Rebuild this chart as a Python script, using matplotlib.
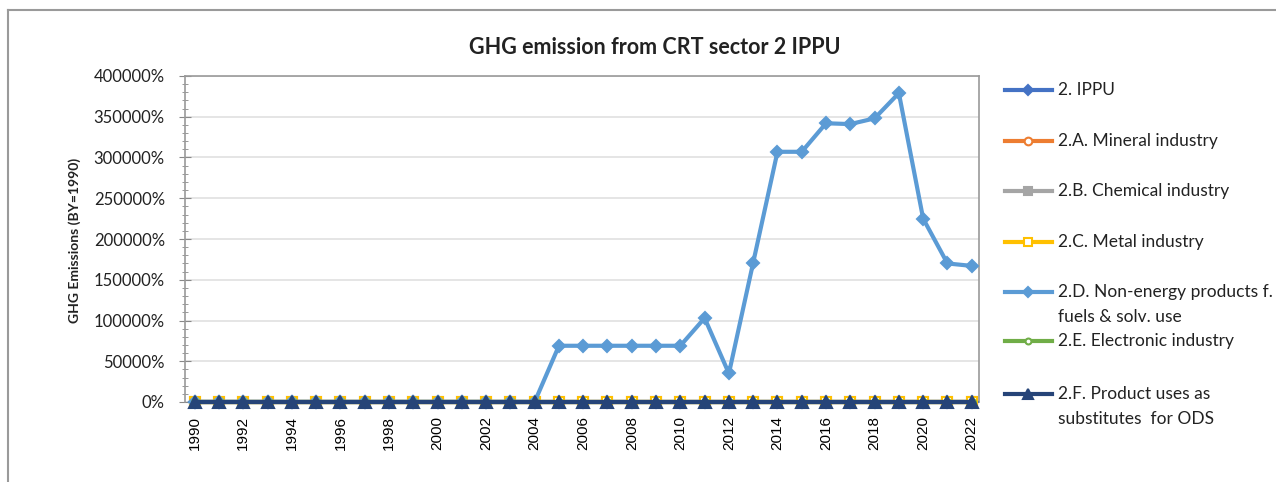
import matplotlib
matplotlib.use("Agg")
import matplotlib.pyplot as plt
from matplotlib.lines import Line2D
from matplotlib.ticker import MultipleLocator, FuncFormatter

plt.rcParams['font.family'] = ['Lato', 'DejaVu Sans']

years = list(range(1990, 2023))
ippu = [100] * 33
mineral = [100] * 33
chemical = [100] * 33
metal = [100] * 33
non_energy = [100] * 15 + [69000, 69000, 69000, 69000, 69000, 69000, 103000, 35000,
                           171000, 307000, 307000, 342000, 341000, 348000, 379000,
                           225000, 170000, 167000]
electronic = [100] * 33
ods = [100] * 33

labels = ["2. IPPU", "2.A. Mineral industry", "2.B. Chemical industry", "2.C. Metal industry",
          "2.D. Non-energy products f.\nfuels & solv. use", "2.E. Electronic industry",
          "2.F. Product uses as\nsubstitutes  for ODS"]
series = [ippu, mineral, chemical, metal, non_energy, electronic, ods]
colors = ["#4472C4", "#ED7D31", "#A5A5A5", "#FFC000", "#5B9BD5", "#70AD47", "#264478"]
markers = ["D", "o", "s", "s", "D", "o", "^"]
mfaces = ["#4472C4", "white", "#A5A5A5", "white", "#5B9BD5", "white", "#264478"]
msizes = [6, 6.5, 6.5, 6.5, 6.5, 5, 8]

W, H = 1276, 482
fig = plt.figure(figsize=(W / 100, H / 100), dpi=100)

def fx(px):
    return px / W

def fy(py):
    return 1 - py / H

ax = fig.add_axes([fx(185), fy(402), fx(979) - fx(185), fy(76) - fy(402)])

for s, c, m, mf, ms in zip(series, colors, markers, mfaces, msizes):
    ax.plot(years, s, color=c, lw=3.0, marker=m, markerfacecolor=mf,
            markeredgecolor=c, markeredgewidth=1.5, markersize=ms, clip_on=False, zorder=3)

ax.set_xlim(1989.6, 2022.3)
ax.set_ylim(0, 400000)
ax.set_xticks(years[::2])
ax.set_xticklabels([str(y) for y in years[::2]], rotation=90, fontsize=11,
                   family=['Liberation Sans', 'DejaVu Sans'])
ax.tick_params(axis='x', length=0, pad=10)
ax.yaxis.set_major_locator(MultipleLocator(50000))
ax.yaxis.set_minor_locator(MultipleLocator(10000))
ax.yaxis.set_major_formatter(FuncFormatter(lambda v, p: f"{v:.0f}%"))
ax.tick_params(axis='y', which='major', direction='inout', length=9, color='#888888',
               labelsize=12, pad=10)
ax.tick_params(axis='y', which='minor', direction='inout', length=5, color='#888888')
ax.grid(axis='y', color='#e0e0e0', lw=1.2)
ax.set_axisbelow(True)
for sp in ax.spines.values():
    sp.set_color('#9a9a9a')
    sp.set_linewidth(1.2)
ax.spines['bottom'].set_visible(False)
for lbl in ax.get_yticklabels():
    lbl.set_color('#222222')

fig.text(fx(75), fy(240), "GHG Emissions (BY=1990)", rotation=90, fontsize=10,
         fontweight='bold', ha='center', va='center', color='#222222')

fig.text(fx(655), fy(48), "GHG emission from CRT sector 2 IPPU", fontsize=15.5,
         fontweight='bold', ha='center', va='center', color='#222222')

# outer frame
fig.add_artist(Line2D([fx(8), fx(8)], [fy(10), 0], color='#9a9a9a', lw=1.5))
fig.add_artist(Line2D([fx(8), 1], [fy(10), fy(10)], color='#9a9a9a', lw=1.5))

# legend
leg_y = [90, 141, 191, 242, 292, 341, 394]
for lab, c, m, mf, ms, yy in zip(labels, colors, markers, mfaces, msizes, leg_y):
    fig.add_artist(Line2D([fx(1005), fx(1052)], [fy(yy), fy(yy)], color=c, lw=3.0))
    fig.add_artist(Line2D([fx(1028)], [fy(yy)], color=c, marker=m, markerfacecolor=mf,
                          markeredgecolor=c, markeredgewidth=1.5, markersize=ms * 0.85))
    fig.text(fx(1058), fy(yy - 8), lab, fontsize=12.5, ha='left', va='top',
             color='#222222', linespacing=1.72)

fig.savefig("out.png", dpi=100)
